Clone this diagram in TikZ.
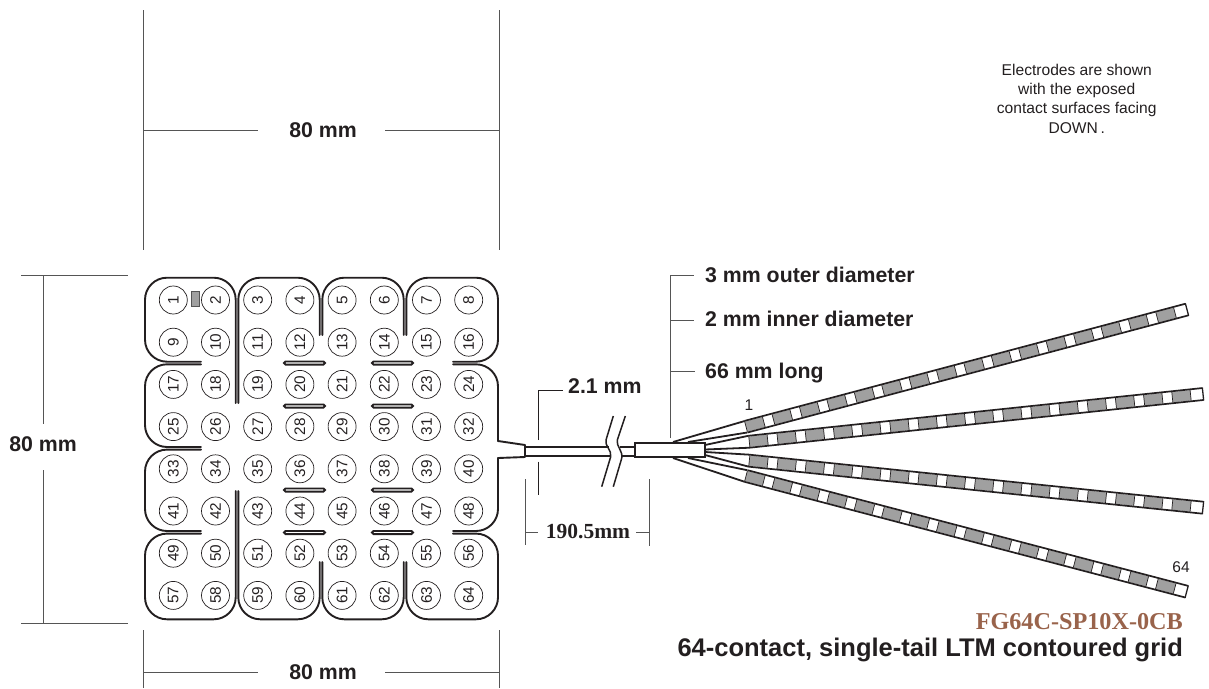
\documentclass[tikz,border=0pt]{standalone}
\usepackage{fontspec}
\setmainfont{Liberation Sans}
\newfontfamily\serifface{Liberation Serif}
\definecolor{ink}{HTML}{231F20}
\definecolor{dimgrey}{HTML}{555555}
\definecolor{contact}{HTML}{A0A0A0}
\definecolor{brownish}{HTML}{99634B}
\tikzset{
  outline/.style={draw=ink,line width=1.9pt,line cap=round,line join=round},
  lobe/.style={outline,rounded corners=22pt},
  slit/.style={draw=ink,line width=1.8pt,rounded corners=1.6pt},
  dimline/.style={draw=dimgrey,line width=0.9pt},
  elec/.style={circle,draw=ink,line width=0.7pt,minimum size=28pt,inner sep=0pt,text=ink,rotate=90,font=\fontsize{15.3}{15.3}\selectfont},
  boldlabel/.style={inner sep=0pt,text=ink,font=\bfseries\fontsize{21.3}{21.3}\selectfont},
  smalltext/.style={inner sep=0pt,text=ink,font=\fontsize{15.5}{15.5}\selectfont}
}
\newcommand{\tailstrip}[4]{%
  \pgfmathsetmacro\stripang{atan2(-(#4-#2),#3-#1)}%
  \pgfmathsetmacro\striplen{veclen(#3-#1,#4-#2)}%
  \pgfmathsetmacro\stripstep{(\striplen-2.5)/16}%
  \begin{scope}[shift={(#1,#2)},rotate=\stripang]
    \foreach \i in {0,...,15}{
      \pgfmathsetmacro\sa{\i*\stripstep}
      \pgfmathsetmacro\sb{\sa+0.65*\stripstep}
      \fill[contact] (\sa,-5.2) rectangle (\sb,5.2);
      \draw[draw=ink,line width=0.7pt] (\sa,-5.2) -- (\sa,5.2) (\sb,-5.2) -- (\sb,5.2);
    }
    \draw[outline,line width=1.7pt,line cap=butt] (0,-6) -- (\striplen,-6) (0,6) -- (\striplen,6);
    \draw[draw=ink,line width=1.3pt] (\striplen,-6.5) -- (\striplen,6.5);
  \end{scope}
}
\begin{document}
\begin{tikzpicture}[x=1pt,y=-1pt]
\useasboundingbox (0,0) rectangle (1209,688);
% dimensions
\draw[dimline] (143,10) -- (143,250) (499,10) -- (499,250);
\draw[dimline] (143,130) -- (258,130) (385,130) -- (499,130);
\node[boldlabel] (top80) at (323,130) {80 mm};
\draw[dimline] (143,630) -- (143,688) (499,630) -- (499,688);
\draw[dimline] (143,672) -- (258,672) (385,672) -- (499,672);
\node[boldlabel] (bot80) at (323,672) {80 mm};
\draw[dimline] (21,275) -- (128,275) (21,623) -- (128,623);
\draw[dimline] (43,275) -- (43,424) (43,470) -- (43,623);
\node[boldlabel] (left80) at (43,444) {80 mm};
% grid outline
\draw[lobe] (201,361.7) -- (145,361.7) -- (145,277.7) -- (235.7,277.7) -- (235.7,403);
\draw[lobe] (238.3,403) -- (238.3,277.7) -- (319.7,277.7) -- (319.7,335);
\draw[lobe] (322.3,335) -- (322.3,277.7) -- (403.7,277.7) -- (403.7,335);
\draw[lobe] (406.3,335) -- (406.3,277.7) -- (498,277.7) -- (498,361.7) -- (453,361.7);
\draw[lobe] (453,364.3) -- (498,364.3) -- (498,441);
\draw[lobe] (201,364.3) -- (145,364.3) -- (145,447) -- (201,447);
\draw[lobe] (201,449.6) -- (145,449.6) -- (145,531) -- (201,531);
\draw[lobe] (201,533.6) -- (145,533.6) -- (145,619.3) -- (235.7,619.3) -- (235.7,491);
\draw[lobe] (238.3,491) -- (238.3,619.3) -- (319.7,619.3) -- (319.7,562);
\draw[lobe] (322.3,562) -- (322.3,619.3) -- (403.7,619.3) -- (403.7,562);
\draw[lobe] (406.3,562) -- (406.3,619.3) -- (498,619.3) -- (498,533.6) -- (453,533.6);
\draw[lobe] (453,531) -- (498,531) -- (498,458);
\foreach \yy in {363,406,490,532.5}{
  \draw[slit] (284,\yy-1.6) rectangle (325,\yy+1.6);
  \draw[slit] (372,\yy-1.6) rectangle (413,\yy+1.6);
}
% contacts
\foreach \r in {0,...,7}{
  \foreach \c in {1,...,8}{
    \pgfmathtruncatemacro\n{\r*8+\c}
    \node[elec] (c\n) at ({173.3+42.2*(\c-1)},{300+42.2*\r}) {\n};
  }
}
\filldraw[fill=contact,draw=dimgrey,line width=0.5pt] (191.7,291) rectangle (199,306.5);
% tail and cable
\draw[outline] (498,441) -- (525,445) -- (525,457) -- (498,458);
\draw[outline,line cap=butt] (525,446.7) -- (608.5,446.7) (525,455.7) -- (609.5,455.7);
\draw[outline,line cap=butt] (620,446.7) -- (635,446.7) (621,455.7) -- (635,455.7);
\draw[draw=ink,line width=1.5pt] (613.3,416) -- (606,440) .. controls (604.5,446) and (612,450) .. (610.7,456.7) -- (601.7,486.7);
\draw[draw=ink,line width=1.5pt] (625.3,416) -- (617.3,440) .. controls (615.8,446) and (623.3,451) .. (621.7,458.3) -- (613.3,486.7);
\node[boldlabel,anchor=west] (wirelabel) at (568,386) {2.1 mm};
\draw[draw=ink,line width=0.8pt] (538,440) -- (538,390.7) -- (563,390.7);
\draw[draw=ink,line width=0.8pt] (538,461.7) -- (538,495);
\draw[dimline,line width=0.8pt] (525.5,479) -- (525.5,545) (649,479) -- (649,546);
\draw[dimline,line width=0.8pt] (525.5,532) -- (538,532) (636,532) -- (649,532);
\node[inner sep=0pt,text=ink,font=\serifface\bfseries\fontsize{21.5}{21.5}\selectfont] (cablelen) at (588,531.5) {190.5mm};
% fan-out
\draw[outline,line width=1.8pt,line cap=butt] (673,442) -- (744.7,421) (688,442) -- (747.3,432.5)
  (705,445) -- (748.8,435.7) (705,449.5) -- (749.8,447.7) (705,452) -- (749.8,454.7)
  (705,455) -- (748.8,466.7) (688,458) -- (747.3,470.2) (673,458) -- (744.7,481.8);
\draw[draw=ink,line width=2pt,fill=white] (635,443) rectangle (705,457.3);
\tailstrip{746}{426.7}{1187}{309.5}
\tailstrip{749.3}{441.7}{1203}{394}
\tailstrip{749.3}{460.7}{1203}{507.7}
\tailstrip{746}{476}{1186.7}{591.7}
% tail labels
\draw[dimline] (670,438) -- (670,275) -- (694,275);
\draw[dimline] (670,320.7) -- (694,320.7) (670,371) -- (695,371);
\node[boldlabel,anchor=west] (outer) at (705,275) {3 mm outer diameter};
\node[boldlabel,anchor=west] (inner) at (705,319) {2 mm inner diameter};
\node[boldlabel,anchor=west] (longl) at (705,373) {66 mm long};
\node[smalltext] (one) at (749,405) {1};
\node[smalltext] (sixtyfour) at (1181,567.5) {64};
% note
\node[smalltext,align=center,font=\fontsize{15.6}{19.3}\selectfont] (note) at (1076.7,98.5) {Electrodes are shown\\with the exposed\\contact surfaces facing\\DOWN\,.};
% titles
\node[inner sep=0pt,anchor=east,text=brownish,font=\serifface\bfseries\fontsize{24.2}{24.2}\selectfont] (partno) at (1183,622) {FG64C-SP10X-0CB};
\node[inner sep=0pt,anchor=east,text=ink,font=\bfseries\fontsize{25.5}{25.5}\selectfont] (title) at (1183,650) {64-contact, single-tail LTM contoured grid};
\end{tikzpicture}
\end{document}
